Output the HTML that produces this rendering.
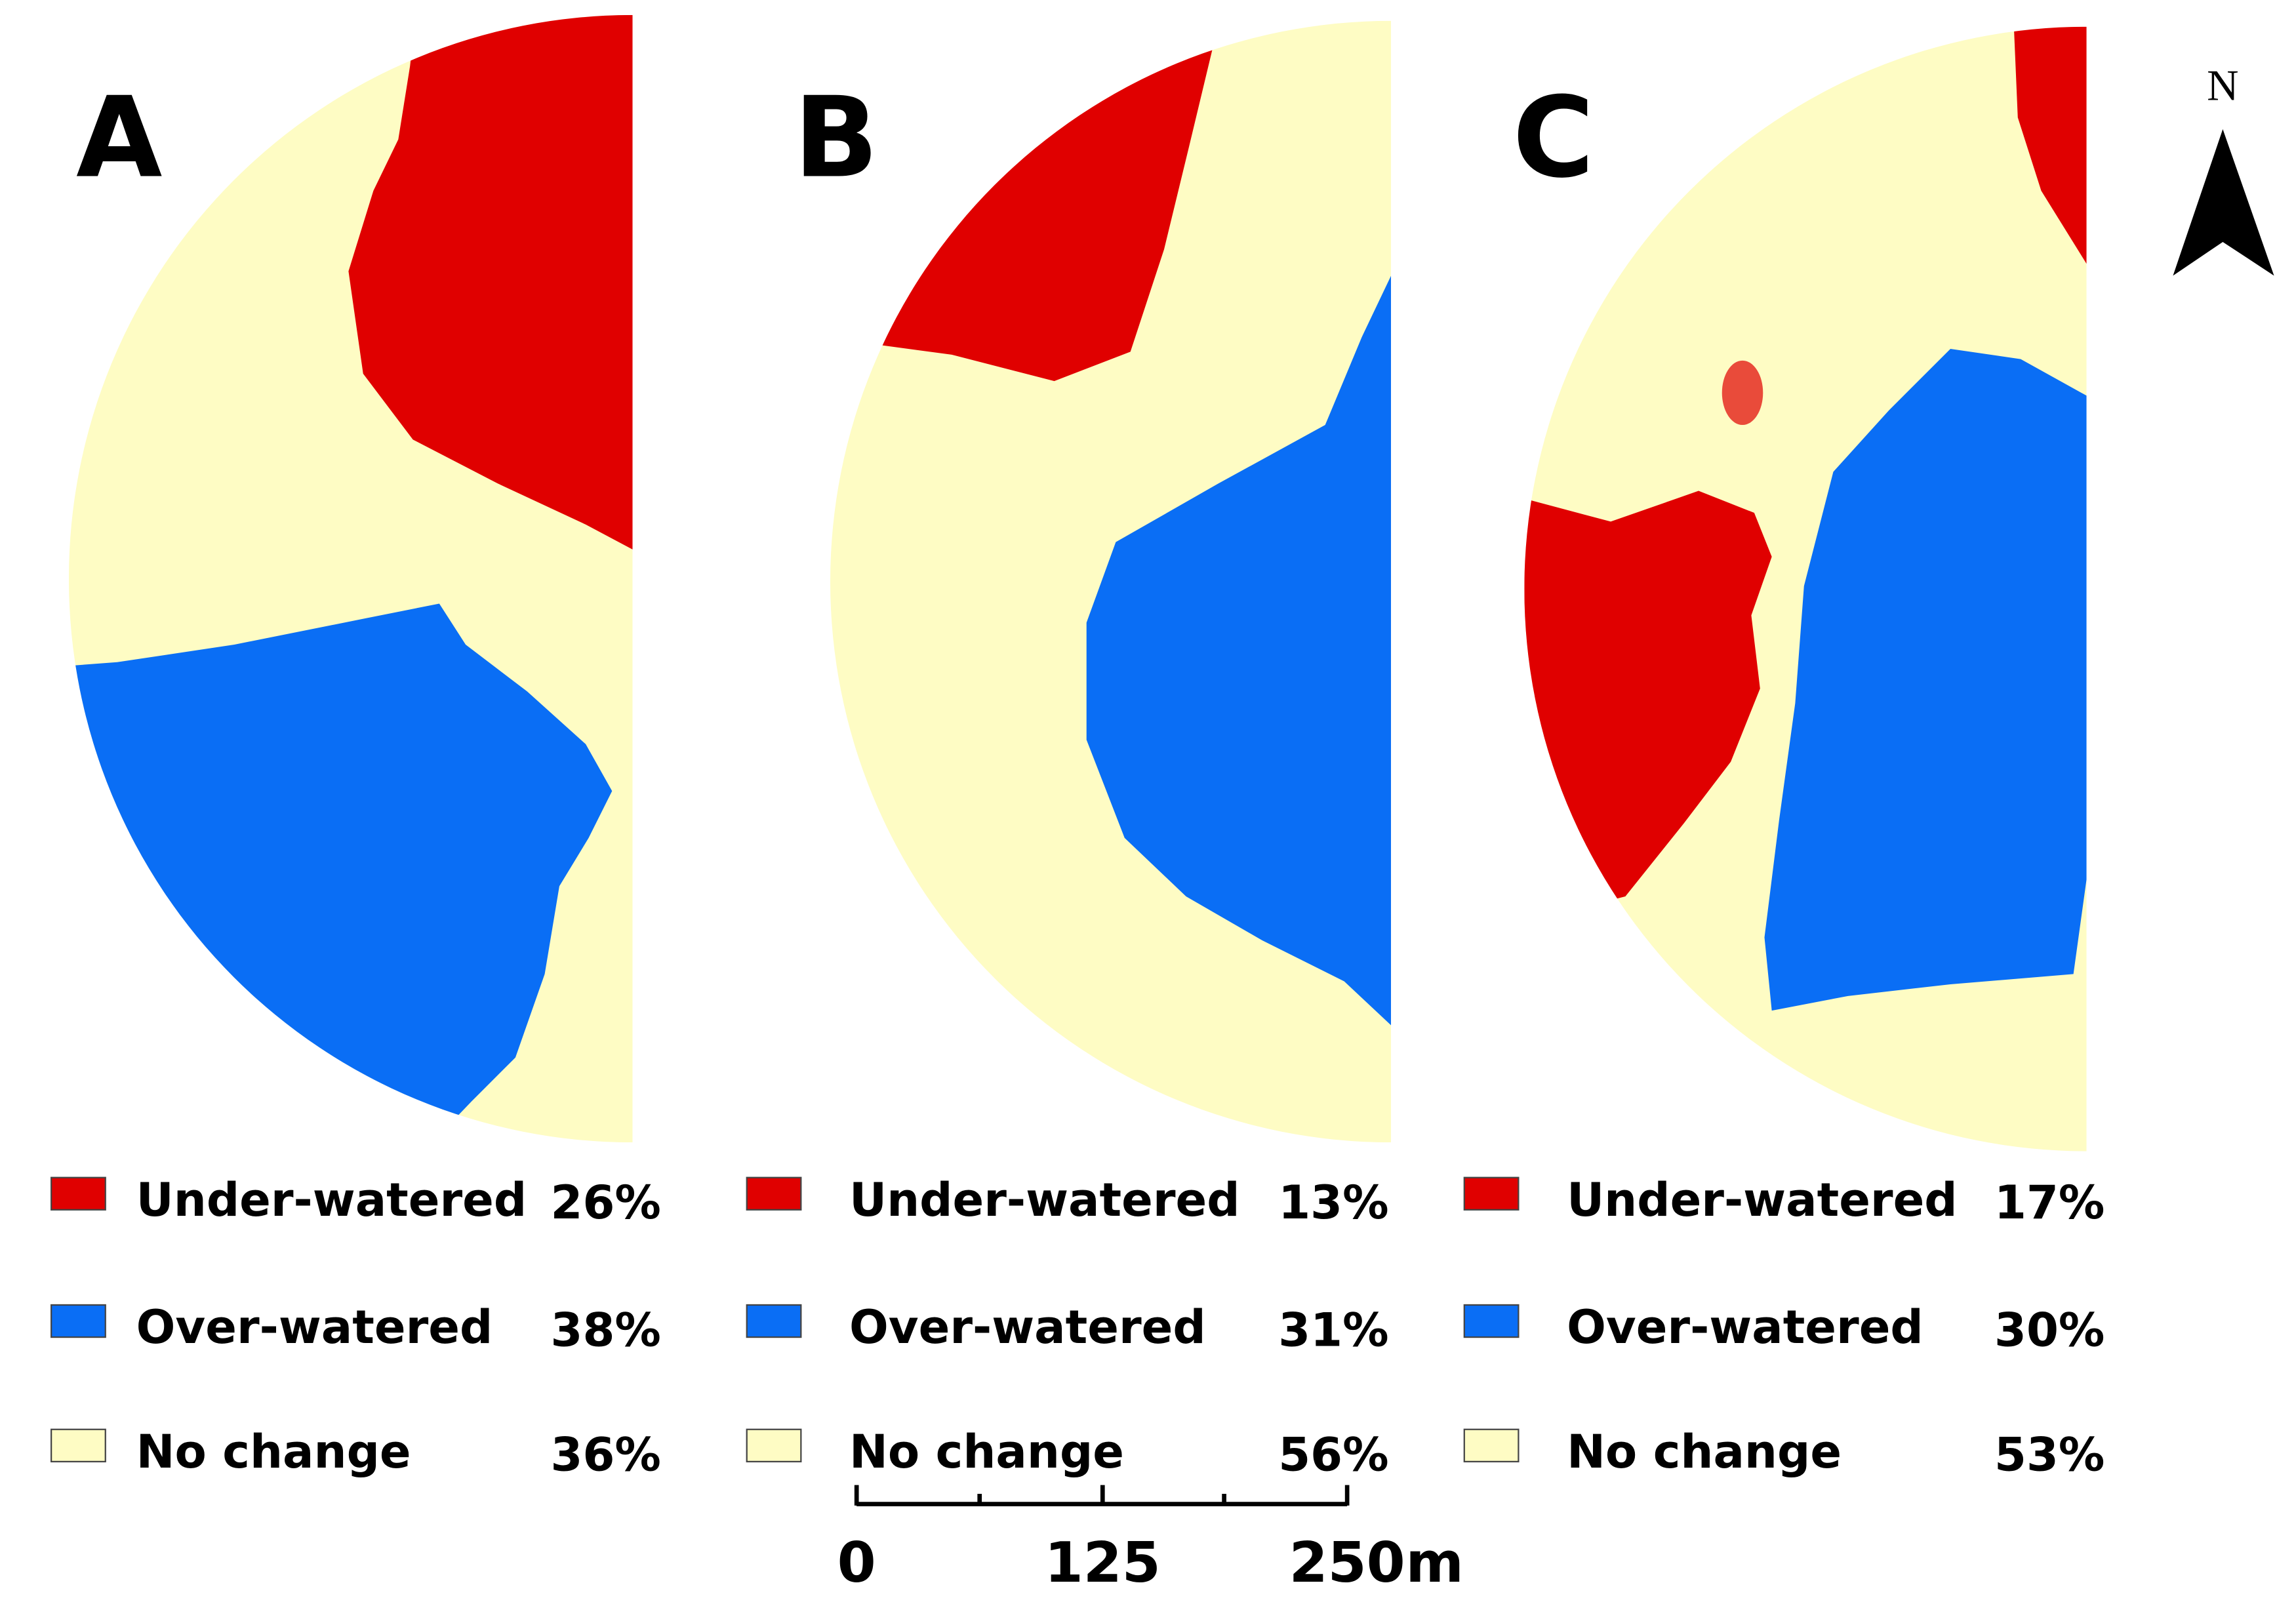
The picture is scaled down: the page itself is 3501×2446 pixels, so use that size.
<!DOCTYPE html>
<html><head><meta charset="utf-8"><style>
html,body{margin:0;padding:0;background:#fff;}
svg{display:block;}
text{font-family:"DejaVu Sans","Liberation Sans",sans-serif;font-weight:bold;}
</style></head><body>
<svg id="fig" width="3501" height="2446" viewBox="0 0 1568 1095" xmlns="http://www.w3.org/2000/svg">
<defs>
<clipPath id="cA"><path d="M432,10 A385,385 0 0 0 432,780 Z"/></clipPath>
<clipPath id="cB"><path d="M950,14 A383,383 0 0 0 950,780 Z"/></clipPath>
<clipPath id="cC"><path d="M1425,18 A384,384 0 0 0 1425,786 Z"/></clipPath>
</defs>
<g clip-path="url(#cA)">
<rect x="0" y="0" width="432" height="800" fill="#fefcc4"/>
<path fill="#e00000" d="M285,0 L432,0 L432,375 L400,358 L340,330 L282,300 L248,255 L238,185 L255,130 L272,95 L280,45 Z"/>
<path fill="#0a6ef5" d="M0,458 L80,452 L160,440 L250,422 L300,412 L318,440 L360,472 L400,508 L418,540 L402,572 L382,605 L372,665 L352,722 L322,752 L300,775 L0,780 Z"/>
</g>
<g clip-path="url(#cB)">
<rect x="500" y="0" width="450" height="800" fill="#fefcc4"/>
<path fill="#e00000" d="M598,235 L640,160 L700,90 L830,25 L812,100 L795,170 L772,240 L720,260 L650,242 Z"/>
<path fill="#0a6ef5" d="M950,188 L930,230 L905,290 L832,330 L762,370 L742,425 L742,505 L768,572 L810,612 L862,642 L918,670 L950,700 Z"/>
</g>
<g clip-path="url(#cC)">
<rect x="1000" y="0" width="425" height="800" fill="#fefcc4"/>
<path fill="#e00000" d="M1375,10 L1378,80 L1394,130 L1425,180 L1425,10 Z"/>
<path fill="#e00000" d="M1000,335 L1040,340 L1100,356 L1160,335 L1198,350 L1210,380 L1196,420 L1202,470 L1182,520 L1150,562 L1110,612 L1000,640 Z"/>
<ellipse cx="1190" cy="268" rx="14" ry="22" fill="#e00000" opacity="0.7"/>
<path fill="#0a6ef5" d="M1425,270 L1380,245 L1332,238 L1290,280 L1252,322 L1232,400 L1226,480 L1215,560 L1205,640 L1210,690 L1262,680 L1332,672 L1416,665 L1425,600 Z"/>
</g>
<text x="52" y="120" font-size="76">A</text>
<text x="542" y="120" font-size="76">B</text>
<text x="1033" y="120" font-size="76">C</text>
<g>
<text x="1518" y="68" font-size="30" text-anchor="middle" style="font-family:'Liberation Serif',serif;font-weight:normal">N</text>
<path d="M1518,88 L1553,188 L1518,165 L1484,188 Z" fill="#000"/>
</g>
<g id="legends"></g>
<g>
<line x1="585" y1="1027" x2="920" y2="1027" stroke="#000" stroke-width="3"/>
<line x1="585" y1="1014" x2="585" y2="1028" stroke="#000" stroke-width="3"/>
<line x1="669" y1="1020" x2="669" y2="1028" stroke="#000" stroke-width="3"/>
<line x1="753" y1="1014" x2="753" y2="1028" stroke="#000" stroke-width="3"/>
<line x1="836" y1="1020" x2="836" y2="1028" stroke="#000" stroke-width="3"/>
<line x1="920" y1="1014" x2="920" y2="1028" stroke="#000" stroke-width="3"/>
<text x="585" y="1080" font-size="38" text-anchor="middle">0</text>
<text x="753" y="1080" font-size="38" text-anchor="middle">125</text>
<text x="920" y="1080" font-size="38" text-anchor="middle">250</text>
<text x="960" y="1080" font-size="38">m</text>
</g>
</svg>
<script>
const panels = ['a','b','c'];
const underPct = [26,13,17];
const overPct = [38,31,30];
const noChangePct = [36,56,53];
const categories = ['Under-watered','Over-watered','No change'];
const colors = ['#e00000','#0a6ef5','#fefcc4'];
const ns='http://www.w3.org/2000/svg';
const g=document.getElementById('legends');
const swX=[35,510,1000], labX=[93,580,1070], pctX=[376,873,1362];
const rowY=[818,905,990];
panels.forEach((p,i)=>{
  const vals=[underPct[i],overPct[i],noChangePct[i]];
  categories.forEach((c,j)=>{
    const r=document.createElementNS(ns,'rect');
    
    
    r.setAttribute('x',swX[i]);r.setAttribute('y',rowY[j]-14);
    r.setAttribute('width',37);r.setAttribute('height',22);
    r.setAttribute('fill',colors[j]);r.setAttribute('stroke','#444');r.setAttribute('stroke-width','1');
    g.appendChild(r);
    const t=document.createElementNS(ns,'text');
    
    
    t.setAttribute('x',labX[i]);t.setAttribute('y',rowY[j]+12);
    t.setAttribute('font-size','31.5');t.textContent=c;g.appendChild(t);
    const v=document.createElementNS(ns,'text');
    
    
    v.setAttribute('x',pctX[i]);v.setAttribute('y',rowY[j]+14);
    v.setAttribute('font-size','31.5');v.textContent=vals[j]+'%';g.appendChild(v);
  });
});
</script>
</body></html>
